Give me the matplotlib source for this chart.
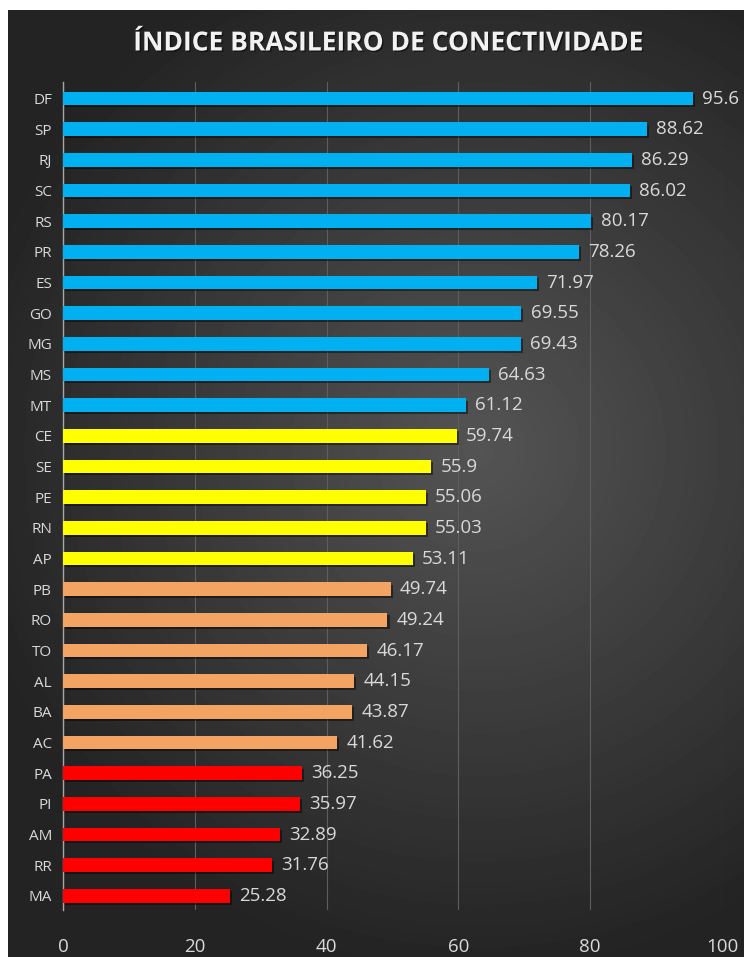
import numpy as np
import matplotlib
matplotlib.use("Agg")
import matplotlib.pyplot as plt
import matplotlib.patheffects as pe

# data, top to bottom
states = ["DF", "SP", "RJ", "SC", "RS", "PR", "ES", "GO", "MG", "MS", "MT",
          "CE", "SE", "PE", "RN", "AP",
          "PB", "RO", "TO", "AL", "BA", "AC",
          "PA", "PI", "AM", "RR", "MA"]
values = [95.6, 88.62, 86.29, 86.02, 80.17, 78.26, 71.97, 69.55, 69.43, 64.63, 61.12,
          59.74, 55.9, 55.06, 55.03, 53.11,
          49.74, 49.24, 46.17, 44.15, 43.87, 41.62,
          36.25, 35.97, 32.89, 31.76, 25.28]
groups = [0] * 11 + [1] * 5 + [2] * 6 + [3] * 5
group_colors = ["#00B0F0", "#FFFF00", "#F4A462", "#FF0000"]
xticks = [0, 20, 40, 60, 80, 100]

W, H = 751, 957
fig = plt.figure(figsize=(W / 100, H / 100), dpi=100, facecolor="white")
plt.rcParams["font.family"] = ["Open Sans", "DejaVu Sans"]

# dark panel with radial gradient
bg = fig.add_axes([8 / W, 0, (744 - 8) / W, 1 - 10 / H])
bg.set_axis_off()
yy, xx = np.mgrid[0:947, 0:736]
r = np.sqrt((xx - 470) ** 2 + (yy - 440) ** 2) / 520
shade = np.clip(0.33 - 0.19 * r, 0.14, 0.33)
bg.imshow(shade, cmap="gray", vmin=0, vmax=1, aspect="auto", interpolation="bilinear")

ax = fig.add_axes([63 / W, 1 - 910 / H, (722 - 63) / W, (910 - 82) / H])
ax.set_facecolor("none")
y = np.arange(len(states))
colors = [group_colors[g] for g in groups]
bars = ax.barh(y, values, height=0.44, color=colors, zorder=3)
for b in bars:
    b.set_path_effects([pe.SimplePatchShadow(offset=(1.5, -1.5), shadow_rgbFace="black", alpha=0.45),
                        pe.Normal()])

for yi, v in zip(y, values):
    ax.text(v + 1.4, yi, f"{v:g}", va="center", ha="left", color="#D9D9D9", fontsize=13.5)

ax.set_xlim(0, 100)
ax.set_ylim(len(states) - 0.54, -0.54)
ax.set_xticks(xticks)
ax.set_yticks(y)
ax.set_yticklabels(states)
ax.grid(axis="x", color="#5E5E5E", linewidth=0.8, zorder=0)
ax.tick_params(axis="both", length=0, colors="#D9D9D9")
ax.tick_params(axis="x", labelsize=13.5, pad=20)
ax.tick_params(axis="y", labelsize=11, pad=8)
for s in ["top", "right", "bottom"]:
    ax.spines[s].set_visible(False)
ax.spines["left"].set_color("#A6A6A6")
ax.spines["left"].set_linewidth(1.0)

title = fig.text(388 / W, 1 - 43 / H, "ÍNDICE BRASILEIRO DE CONECTIVIDADE", ha="center", va="center",
                 color="#F2F2F2", fontsize=19, fontweight="bold")
title.set_path_effects([pe.withSimplePatchShadow(offset=(1, -1), shadow_rgbFace="black", alpha=0.5)])

fig.savefig("out.png", dpi=100, facecolor="white")
